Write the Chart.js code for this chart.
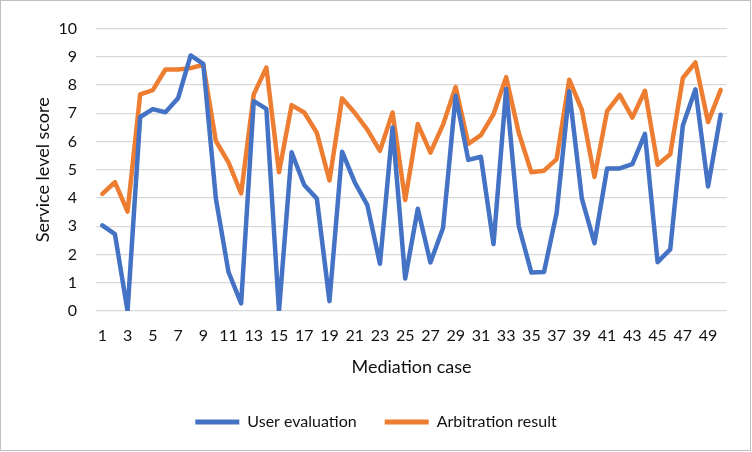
<!DOCTYPE html>
<html>
<head>
<meta charset="utf-8">
<script src="https://cdn.jsdelivr.net/npm/chart.js@4/dist/chart.umd.min.js"></script>
<style>
  html, body { margin: 0; padding: 0; background: #fff; }
  #wrap { position: relative; width: 752px; height: 452px; }
  #frame { position: absolute; left: 0; top: 0; width: 749px; height: 449px; border: 1px solid #c0c0c0; pointer-events: none; }
  canvas { position: absolute; left: 0; top: 0; }
</style>
</head>
<body>
<div id="wrap">
  <canvas id="c" width="752" height="452"></canvas>
  <div id="frame"></div>
</div>
<script>
const categories = Array.from({length: 50}, (_, i) => String(i + 1));
const userEvaluation = [3.03, 2.72, 0, 6.87, 7.15, 7.04, 7.53, 9.05, 8.75, 3.98,
  1.38, 0.27, 7.43, 7.16, 0, 5.62, 4.46, 3.98, 0.35, 5.64,
  4.56, 3.75, 1.67, 6.5, 1.15, 3.62, 1.72, 2.94, 7.62, 5.35,
  5.46, 2.37, 7.86, 3.0, 1.36, 1.38, 3.47, 7.78, 3.98, 2.4,
  5.05, 5.05, 5.2, 6.27, 1.73, 2.18, 6.57, 7.85, 4.41, 6.95];
const arbitrationResult = [4.15, 4.56, 3.52, 7.67, 7.82, 8.55, 8.55, 8.6, 8.72, 6.02,
  5.26, 4.16, 7.67, 8.62, 4.91, 7.29, 7.03, 6.31, 4.62, 7.53,
  7.02, 6.42, 5.67, 7.03, 3.93, 6.62, 5.61, 6.6, 7.93, 5.92,
  6.23, 6.97, 8.28, 6.31, 4.91, 4.97, 5.38, 8.19, 7.12, 4.75,
  7.08, 7.65, 6.85, 7.8, 5.18, 5.55, 8.25, 8.8, 6.69, 7.83];
const yTicks = [0, 1, 2, 3, 4, 5, 6, 7, 8, 9, 10];
const seriesNames = ['User evaluation', 'Arbitration result'];

const FONT = 'Lato, "Open Sans", sans-serif';
const BLUE = '#4472C4';
const ORANGE = '#ED7D31';
const TEXT = '#111111';

new Chart(document.getElementById('c'), {
  type: 'line',
  data: {
    labels: categories,
    datasets: [
      { label: seriesNames[0], data: userEvaluation, borderColor: BLUE, backgroundColor: BLUE,
        borderWidth: 4.5, pointRadius: 0, tension: 0, borderJoinStyle: 'round', borderCapStyle: 'round', fill: false },
      { label: seriesNames[1], data: arbitrationResult, borderColor: ORANGE, backgroundColor: ORANGE,
        borderWidth: 4.5, pointRadius: 0, tension: 0, borderJoinStyle: 'round', borderCapStyle: 'round', fill: false }
    ]
  },
  options: {
    responsive: false,
    animation: false,
    layout: { padding: { left: 25, right: 25, top: 24, bottom: 12 } },
    plugins: {
      tooltip: { enabled: false },
      legend: {
        position: 'bottom',
        labels: {
          font: { family: FONT, size: 16 },
          color: TEXT,
          boxWidth: 44,
          boxHeight: 5,
          padding: 28,
          generateLabels(chart) {
            const items = Chart.defaults.plugins.legend.labels.generateLabels(chart);
            items.forEach(it => { it.lineWidth = 0; it.strokeStyle = 'rgba(0,0,0,0)'; });
            return items;
          }
        }
      }
    },
    scales: {
      x: {
        offset: true,
        grid: { display: false, drawTicks: false },
        border: { display: false },
        ticks: {
          autoSkip: false, maxRotation: 0, minRotation: 0, padding: 15,
          font: { family: FONT, size: 16 }, color: TEXT,
          callback(value, index) { return index % 2 === 0 ? categories[index] : ''; }
        },
        title: { display: true, text: 'Mediation case', font: { family: FONT, size: 18 }, color: TEXT,
          padding: { top: 0, bottom: 8 } },
        afterFit(scale) { scale.height = 75; }
      },
      y: {
        min: 0, max: 10,
        afterBuildTicks(scale) { scale.ticks = yTicks.map(v => ({ value: v })); },
        grid: { color: '#d9d9d9', lineWidth: 1.3, drawTicks: false },
        border: { display: false },
        ticks: { padding: 19, font: { family: FONT, size: 16 }, color: TEXT },
        title: { display: true, text: 'Service level score', font: { family: FONT, size: 18 }, color: TEXT,
          padding: { top: 7, bottom: 0 } },
        afterFit(scale) { scale.width = 71; }
      }
    }
  }
});
</script>
</body>
</html>
